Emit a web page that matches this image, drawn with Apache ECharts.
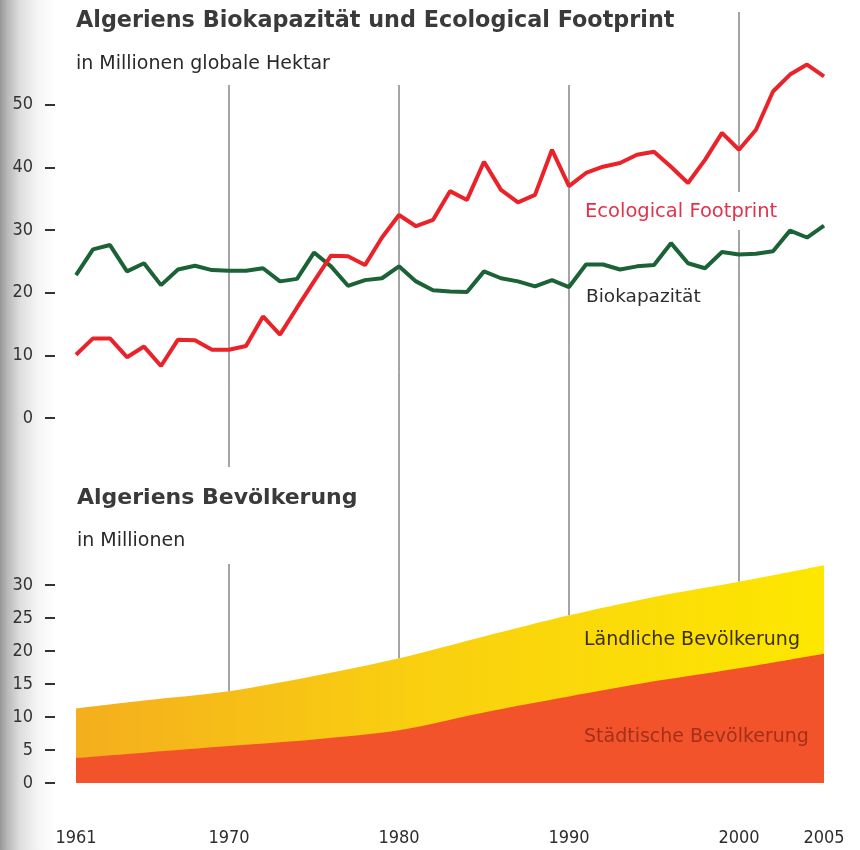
<!DOCTYPE html>
<html>
<head>
<meta charset="utf-8">
<title>Algerien</title>
<script src="https://cdn.jsdelivr.net/npm/echarts@6/dist/echarts.min.js"></script>
<style>
  html, body { margin: 0; padding: 0; }
  body {
    width: 860px; height: 850px;
    /* grauer Falz am linken Rand */
    background: linear-gradient(90deg, #979797 0px, #bababa 8px, #dedede 20px, #f5f5f5 38px, #ffffff 55px);
  }
  #main { width: 860px; height: 850px; }
</style>
</head>
<body>
<div id="main"></div>
<script>
// Jahre der oberen Grafik
var years = [1961, 1962, 1963, 1964, 1965, 1966, 1967, 1968, 1969, 1970,
    1971, 1972, 1973, 1974, 1975, 1976, 1977, 1978, 1979, 1980,
    1981, 1982, 1983, 1984, 1985, 1986, 1987, 1988, 1989, 1990,
    1991, 1992, 1993, 1994, 1995, 1996, 1997, 1998, 1999, 2000,
    2001, 2002, 2003, 2004, 2005];
// Ecological Footprint, Mio. globale Hektar
var footprint = [10.1, 12.7, 12.7, 9.7, 11.4, 8.3, 12.5, 12.4, 10.9, 10.9,
    11.5, 16.2, 13.3, 17.6, 21.8, 25.9, 25.8, 24.4, 28.8, 32.4,
    30.6, 31.6, 36.2, 34.8, 40.9, 36.4, 34.4, 35.6, 42.8, 37.0,
    39.1, 40.1, 40.7, 42.0, 42.5, 40.1, 37.5, 41.2, 45.5, 42.8,
    46.0, 52.1, 54.8, 56.4, 54.5];
// Biokapazität, Mio. globale Hektar
var biocap = [22.8, 26.9, 27.6, 23.4, 24.7, 21.2, 23.7, 24.3, 23.6, 23.5,
    23.5, 23.9, 21.8, 22.2, 26.4, 24.2, 21.1, 22.0, 22.3, 24.2,
    21.8, 20.4, 20.2, 20.1, 23.4, 22.3, 21.8, 21.0, 22.0, 20.9,
    24.5, 24.5, 23.7, 24.2, 24.4, 27.9, 24.7, 23.9, 26.5, 26.1,
    26.2, 26.6, 29.9, 28.8, 30.7];

// Bevölkerung in Millionen
var popYears = [1961, 1965, 1970, 1975, 1980, 1985, 1990, 1995, 2000, 2005];
var popUrban = [3.8, 4.6, 5.6, 6.6, 8.0, 10.7, 13.1, 15.4, 17.4, 19.6];
var popRural = [7.5, 7.9, 8.3, 9.6, 10.9, 11.5, 12.3, 12.8, 13.1, 13.4];

var gridYears = [1970, 1980, 1990, 2000];
var xLabelYears = [1961, 1970, 1980, 1990, 2000, 2005];
var ticksTop = [0, 10, 20, 30, 40, 50];
var ticksPop = [0, 5, 10, 15, 20, 25, 30];

// Layout (Pixel)
var POP_BASE = 783;      // Nulllinie unten
var POP_PX = 6.6;        // px je Mio.
var lineTopPx = { 1970: 85, 1980: 85, 1990: 85, 2000: 12 };

var narrow = "'Liberation Sans Narrow', 'DejaVu Sans Condensed', sans-serif";
var sans = "'DejaVu Sans', sans-serif";

function pairs(xs, ys) {
    return xs.map(function (x, i) { return [x, ys[i]]; });
}

// Gesamtbevölkerung = städtisch + ländlich (gelbe Fläche liegt unter der roten)
var popTotal = popUrban.map(function (u, i) { return u + popRural[i]; });

var myChart = echarts.init(document.getElementById('main'), null, { renderer: 'canvas' });

// senkrechte Jahreslinien, unten an der Bevölkerungsfläche
var refSeries = gridYears.map(function (y) {
    var i = popYears.indexOf(y);
    var topVal = (POP_BASE - lineTopPx[y]) / POP_PX;
    return {
        type: 'line',
        xAxisIndex: 1,
        yAxisIndex: 1,
        data: [[y, popTotal[i]], [y, topVal]],
        clip: false,
        symbol: 'none',
        silent: true,
        z: 1,
        lineStyle: { color: '#4a4a4a', width: 1 }
    };
});

// y-Achse mit Strich-Ticks
function yAxisFor(grid, max, interval, ticks) {
    return {
        gridIndex: grid, type: 'value', min: 0, max: max, interval: interval,
        offset: 21,
        axisLine: { show: false },
        splitLine: { show: false },
        axisTick: {
            show: true, inside: false, length: 10,
            customValues: ticks,
            lineStyle: { color: '#333', width: 2 }
        },
        axisLabel: {
            margin: 22,
            customValues: ticks,
            fontFamily: narrow, fontSize: 18, color: '#333',
            formatter: function (v) { return ticks.indexOf(v) >= 0 ? String(v) : ''; }
        }
    };
}

var option = {
    animation: false,
    title: [
        {
            text: 'Algeriens Biokapazität und Ecological Footprint',
            subtext: 'in Millionen globale Hektar',
            left: 76, top: 10, padding: 0, itemGap: 23,
            textStyle: { fontFamily: sans, fontSize: 22.3, fontWeight: 'bold', color: '#3a3a3a' },
            subtextStyle: { fontFamily: sans, fontSize: 19, color: '#2a2a2a' }
        },
        {
            text: 'Algeriens Bevölkerung',
            subtext: 'in Millionen',
            left: 74, top: 467, padding: [20, 8, 13, 3], itemGap: 23,
            backgroundColor: '#fff',
            textStyle: { fontFamily: sans, fontSize: 22, fontWeight: 'bold', color: '#3a3a3a' },
            subtextStyle: { fontFamily: sans, fontSize: 19, color: '#2a2a2a' }
        },
        {
            text: 'Ecological Footprint',
            left: 581, top: 192, padding: [10, 4, 8, 4],
            backgroundColor: '#fff',
            textStyle: { fontFamily: sans, fontSize: 19.5, fontWeight: 'normal', color: '#e2324b' }
        },
        {
            text: 'Biokapazität',
            left: 586, top: 288, padding: 0,
            textStyle: { fontFamily: sans, fontSize: 18.5, fontWeight: 'normal', color: '#2e2e2e' }
        },
        {
            text: 'Ländliche Bevölkerung',
            left: 584, top: 631, padding: 0,
            textStyle: { fontFamily: sans, fontSize: 19, fontWeight: 'normal', color: '#3b3000' }
        },
        {
            text: 'Städtische Bevölkerung',
            left: 584, top: 728, padding: 0,
            textStyle: { fontFamily: sans, fontSize: 19, fontWeight: 'normal', color: '#a3301a' }
        }
    ],
    grid: [
        { left: 76, right: 36, top: 42, bottom: 850 - 418 },
        { left: 76, right: 36, top: POP_BASE - 35 * POP_PX, bottom: 850 - POP_BASE }
    ],
    xAxis: [
        {
            gridIndex: 0, type: 'value', min: 1961, max: 2005, show: false
        },
        {
            gridIndex: 1, type: 'value', min: 1961, max: 2005, interval: 1,
            axisLine: { show: false },
            axisTick: { show: false },
            splitLine: { show: false },
            axisLabel: {
                margin: 46,
                fontFamily: narrow, fontSize: 18, color: '#2e2e2e',
                formatter: function (v) { return xLabelYears.indexOf(v) >= 0 ? String(v) : ''; }
            }
        }
    ],
    yAxis: [
        yAxisFor(0, 60, 10, ticksTop),
        yAxisFor(1, 35, 5, ticksPop)
    ],
    series: [
        {
            name: 'Ländliche Bevölkerung',
            type: 'line',
            xAxisIndex: 1, yAxisIndex: 1,
            smooth: 0.3,
            symbol: 'none',
            z: 2,
            lineStyle: { width: 0 },
            areaStyle: {
                opacity: 1,
                color: {
                    type: 'linear', x: 0, y: 0, x2: 1, y2: 0,
                    colorStops: [
                        { offset: 0, color: '#f4ae1e' },
                        { offset: 0.45, color: '#f9cf10' },
                        { offset: 1, color: '#fde700' }
                    ]
                }
            },
            data: pairs(popYears, popTotal)
        },
        {
            name: 'Städtische Bevölkerung',
            type: 'line',
            xAxisIndex: 1, yAxisIndex: 1,
            smooth: 0.3,
            symbol: 'none',
            z: 2,
            lineStyle: { width: 0 },
            areaStyle: { color: '#f3532b', opacity: 1 },
            data: pairs(popYears, popUrban)
        },
        {
            name: 'Biokapazität',
            type: 'line',
            xAxisIndex: 0, yAxisIndex: 0,
            symbol: 'none',
            z: 3,
            lineStyle: { color: '#1b6337', width: 4 },
            data: pairs(years, biocap)
        },
        {
            name: 'Ecological Footprint',
            type: 'line',
            xAxisIndex: 0, yAxisIndex: 0,
            symbol: 'none',
            z: 3,
            lineStyle: { color: '#ea2229', width: 4 },
            data: pairs(years, footprint)
        }
    ].concat(refSeries)
};

myChart.setOption(option);
window.addEventListener('resize', function () {
    myChart.resize();
});
</script>
</body>
</html>
